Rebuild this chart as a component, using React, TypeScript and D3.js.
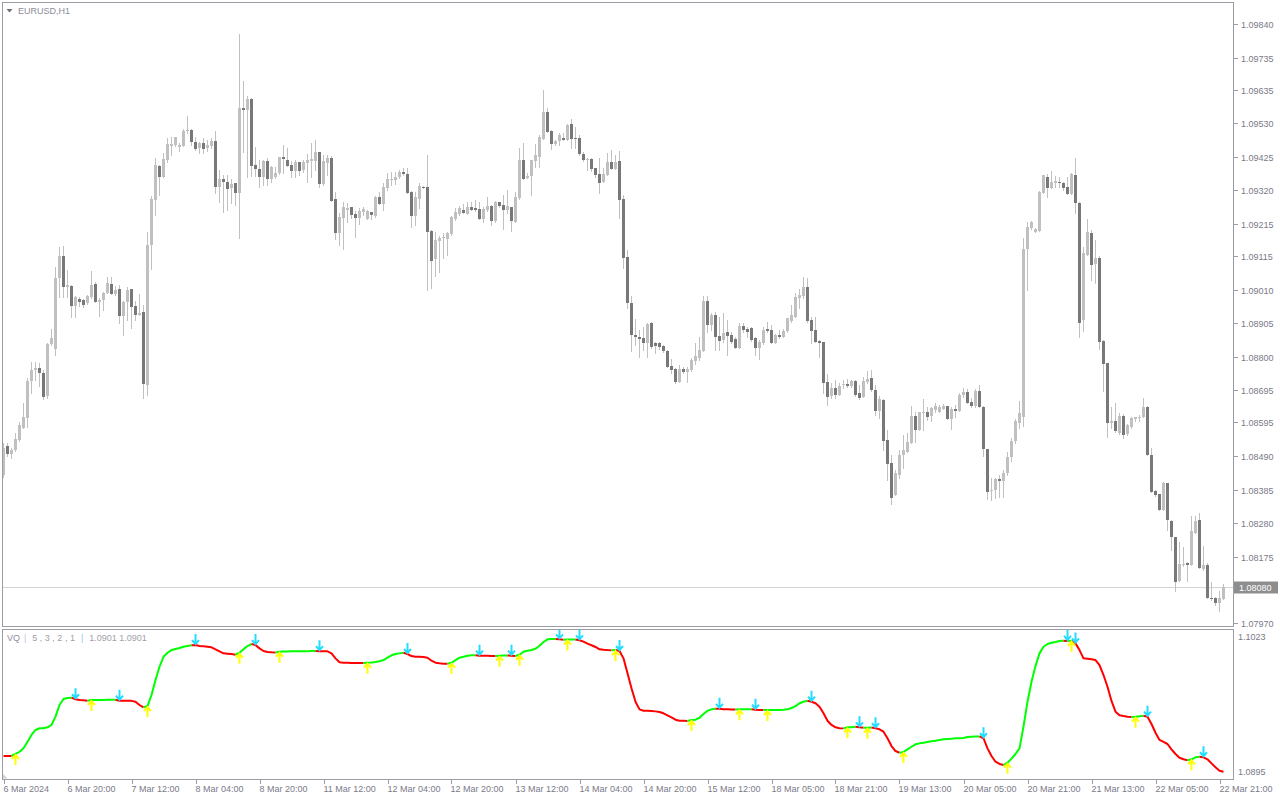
import React from 'react';
import * as d3 from 'd3';

const openP = [1.08430,1.08520,1.08495,1.08508,1.08539,1.08577,1.08608,1.08724,1.08758,1.08764,1.08749,1.08677,1.08839,1.08824,1.09046,1.09115,1.09018,1.09021,1.08958,1.08980,1.08977,1.08968,1.08986,1.09027,1.08971,1.08977,1.08999,1.09027,1.08996,1.09011,1.08927,1.08971,1.09011,1.08958,1.08930,1.08940,1.08711,1.09149,1.09290,1.09396,1.09362,1.09415,1.09458,1.09462,1.09455,1.09458,1.09505,1.09508,1.09471,1.09452,1.09468,1.09452,1.09458,1.09475,1.09330,1.09355,1.09346,1.09327,1.09343,1.09311,1.09577,1.09571,1.09605,1.09399,1.09387,1.09362,1.09412,1.09355,1.09362,1.09374,1.09424,1.09415,1.09399,1.09380,1.09408,1.09383,1.09405,1.09412,1.09412,1.09440,1.09340,1.09405,1.09421,1.09293,1.09186,1.09233,1.09258,1.09268,1.09246,1.09233,1.09252,1.09230,1.09252,1.09240,1.09299,1.09277,1.09327,1.09352,1.09352,1.09362,1.09377,1.09371,1.09315,1.09240,1.09293,1.09330,1.09330,1.09193,1.09105,1.09161,1.09171,1.09168,1.09183,1.09230,1.09246,1.09258,1.09246,1.09268,1.09265,1.09262,1.09230,1.09258,1.09271,1.09224,1.09283,1.09274,1.09258,1.09268,1.09221,1.09296,1.09415,1.09358,1.09365,1.09412,1.09424,1.09480,1.09565,1.09505,1.09465,1.09475,1.09484,1.09478,1.09527,1.09484,1.09484,1.09433,1.09415,1.09418,1.09390,1.09371,1.09346,1.09368,1.09408,1.09387,1.09412,1.09293,1.09111,1.08968,1.08868,1.08861,1.08858,1.08843,1.08905,1.08843,1.08843,1.08833,1.08818,1.08771,1.08761,1.08721,1.08761,1.08752,1.08758,1.08786,1.08795,1.08818,1.08974,1.08899,1.08930,1.08865,1.08852,1.08877,1.08868,1.08855,1.08827,1.08896,1.08886,1.08889,1.08858,1.08827,1.08843,1.08886,1.08883,1.08843,1.08868,1.08861,1.08880,1.08911,1.08924,1.08983,1.08989,1.09018,1.08914,1.08883,1.08849,1.08846,1.08721,1.08677,1.08702,1.08680,1.08711,1.08714,1.08708,1.08724,1.08686,1.08674,1.08721,1.08733,1.08695,1.08630,1.08664,1.08539,1.08467,1.08367,1.08430,1.08492,1.08502,1.08530,1.08614,1.08570,1.08624,1.08627,1.08614,1.08633,1.08627,1.08636,1.08646,1.08605,1.08636,1.08630,1.08680,1.08689,1.08658,1.08646,1.08692,1.08642,1.08511,1.08380,1.08383,1.08417,1.08411,1.08436,1.08486,1.08536,1.08592,1.08611,1.09136,1.09202,1.09190,1.09193,1.09311,1.09362,1.09327,1.09343,1.09346,1.09343,1.09330,1.09308,1.09368,1.09280,1.08914,1.09118,1.09186,1.09089,1.09108,1.08849,1.08780,1.08592,1.08599,1.08561,1.08614,1.08558,1.08580,1.08605,1.08608,1.08611,1.08642,1.08492,1.08380,1.08370,1.08320,1.08405,1.08286,1.08236,1.08101,1.08149,1.08155,1.08149,1.08251,1.08289,1.08136,1.08149,1.08048,1.08048,1.08030,1.08042];

const highP = [1.08530,1.08530,1.08514,1.08561,1.08595,1.08655,1.08733,1.08783,1.08783,1.08780,1.08758,1.08843,1.08886,1.09080,1.09143,1.09146,1.09071,1.09024,1.08989,1.08986,1.08980,1.08992,1.09068,1.09033,1.08983,1.09002,1.09049,1.09049,1.09021,1.09024,1.08974,1.09018,1.09011,1.08974,1.08996,1.08962,1.09190,1.09302,1.09421,1.09399,1.09437,1.09484,1.09487,1.09487,1.09468,1.09512,1.09552,1.09512,1.09487,1.09471,1.09484,1.09478,1.09484,1.09505,1.09384,1.09369,1.09369,1.09355,1.09343,1.09809,1.09662,1.09615,1.09609,1.09455,1.09415,1.09415,1.09421,1.09396,1.09393,1.09424,1.09462,1.09452,1.09412,1.09415,1.09408,1.09415,1.09433,1.09468,1.09478,1.09440,1.09431,1.09431,1.09428,1.09315,1.09249,1.09283,1.09280,1.09268,1.09255,1.09265,1.09268,1.09258,1.09252,1.09302,1.09315,1.09343,1.09374,1.09377,1.09377,1.09383,1.09390,1.09390,1.09318,1.09315,1.09343,1.09333,1.09430,1.09196,1.09190,1.09177,1.09186,1.09190,1.09240,1.09265,1.09271,1.09277,1.09283,1.09283,1.09290,1.09283,1.09268,1.09299,1.09274,1.09287,1.09283,1.09305,1.09321,1.09268,1.09315,1.09452,1.09468,1.09374,1.09415,1.09465,1.09493,1.09634,1.09577,1.09508,1.09478,1.09499,1.09499,1.09527,1.09543,1.09518,1.09493,1.09440,1.09421,1.09421,1.09390,1.09421,1.09390,1.09437,1.09446,1.09430,1.09443,1.09305,1.09133,1.08989,1.08918,1.08883,1.08892,1.08905,1.08908,1.08846,1.08846,1.08836,1.08821,1.08792,1.08764,1.08774,1.08767,1.08767,1.08795,1.08843,1.08861,1.08989,1.08989,1.08936,1.08940,1.08924,1.08936,1.08914,1.08877,1.08861,1.08905,1.08905,1.08892,1.08892,1.08861,1.08852,1.08892,1.08908,1.08899,1.08871,1.08883,1.08886,1.08921,1.08962,1.08999,1.09011,1.09049,1.09046,1.08924,1.08924,1.08852,1.08846,1.08746,1.08718,1.08727,1.08718,1.08727,1.08730,1.08727,1.08727,1.08711,1.08736,1.08755,1.08758,1.08711,1.08677,1.08667,1.08570,1.08492,1.08445,1.08508,1.08555,1.08561,1.08646,1.08627,1.08627,1.08667,1.08642,1.08642,1.08655,1.08649,1.08652,1.08646,1.08642,1.08649,1.08686,1.08702,1.08699,1.08671,1.08699,1.08711,1.08646,1.08511,1.08420,1.08423,1.08430,1.08445,1.08502,1.08546,1.08605,1.08661,1.09171,1.09221,1.09224,1.09202,1.09318,1.09368,1.09371,1.09380,1.09365,1.09362,1.09346,1.09362,1.09374,1.09421,1.09283,1.09143,1.09230,1.09196,1.09165,1.09115,1.08852,1.08780,1.08642,1.08655,1.08624,1.08620,1.08589,1.08611,1.08611,1.08617,1.08671,1.08646,1.08514,1.08383,1.08373,1.08408,1.08405,1.08289,1.08236,1.08220,1.08205,1.08158,1.08302,1.08302,1.08311,1.08208,1.08155,1.08095,1.08051,1.08067,1.08090];

const lowP = [1.08424,1.08489,1.08483,1.08505,1.08536,1.08577,1.08580,1.08686,1.08727,1.08708,1.08667,1.08671,1.08836,1.08805,1.08986,1.08986,1.08986,1.08924,1.08924,1.08958,1.08955,1.08965,1.08983,1.08971,1.08927,1.08946,1.08999,1.08996,1.08992,1.08905,1.08868,1.08914,1.08889,1.08914,1.08930,1.08671,1.08680,1.09074,1.09242,1.09305,1.09362,1.09408,1.09431,1.09458,1.09443,1.09458,1.09499,1.09462,1.09446,1.09437,1.09437,1.09443,1.09452,1.09311,1.09283,1.09252,1.09258,1.09280,1.09274,1.09171,1.09440,1.09362,1.09365,1.09365,1.09330,1.09337,1.09337,1.09346,1.09358,1.09371,1.09374,1.09396,1.09362,1.09362,1.09368,1.09377,1.09346,1.09362,1.09383,1.09330,1.09337,1.09368,1.09287,1.09168,1.09149,1.09137,1.09221,1.09233,1.09174,1.09215,1.09243,1.09230,1.09230,1.09236,1.09277,1.09258,1.09321,1.09337,1.09340,1.09358,1.09368,1.09311,1.09205,1.09211,1.09265,1.09327,1.09008,1.09015,1.09052,1.09065,1.09108,1.09118,1.09180,1.09227,1.09243,1.09249,1.09246,1.09258,1.09255,1.09230,1.09221,1.09255,1.09211,1.09221,1.09268,1.09199,1.09249,1.09193,1.09221,1.09293,1.09355,1.09358,1.09305,1.09393,1.09393,1.09480,1.09502,1.09449,1.09462,1.09462,1.09478,1.09478,1.09452,1.09452,1.09430,1.09412,1.09383,1.09380,1.09362,1.09311,1.09346,1.09368,1.09387,1.09387,1.09233,1.09077,1.08952,1.08818,1.08836,1.08799,1.08821,1.08799,1.08827,1.08811,1.08824,1.08814,1.08768,1.08749,1.08718,1.08721,1.08749,1.08721,1.08755,1.08777,1.08789,1.08818,1.08877,1.08883,1.08821,1.08821,1.08846,1.08805,1.08843,1.08827,1.08827,1.08877,1.08861,1.08849,1.08805,1.08792,1.08839,1.08877,1.08843,1.08843,1.08858,1.08861,1.08877,1.08908,1.08924,1.08952,1.08983,1.08908,1.08843,1.08846,1.08799,1.08686,1.08649,1.08671,1.08671,1.08680,1.08702,1.08705,1.08705,1.08677,1.08667,1.08674,1.08718,1.08692,1.08617,1.08608,1.08508,1.08414,1.08339,1.08367,1.08420,1.08452,1.08502,1.08530,1.08533,1.08570,1.08570,1.08602,1.08599,1.08627,1.08627,1.08636,1.08605,1.08574,1.08611,1.08630,1.08674,1.08655,1.08642,1.08642,1.08642,1.08489,1.08355,1.08352,1.08358,1.08361,1.08361,1.08430,1.08474,1.08530,1.08577,1.08583,1.09008,1.09199,1.09190,1.09193,1.09311,1.09299,1.09327,1.09330,1.09330,1.09321,1.09308,1.09308,1.09249,1.08861,1.08880,1.09118,1.09039,1.09030,1.08824,1.08692,1.08549,1.08577,1.08564,1.08558,1.08546,1.08555,1.08577,1.08599,1.08599,1.08611,1.08492,1.08377,1.08364,1.08320,1.08320,1.08258,1.08195,1.08067,1.08101,1.08145,1.08101,1.08149,1.08251,1.08139,1.08133,1.08045,1.08039,1.08026,1.08007,1.08042];

const closeP = [1.08514,1.08495,1.08508,1.08542,1.08586,1.08611,1.08724,1.08758,1.08764,1.08749,1.08674,1.08839,1.08858,1.09046,1.09115,1.09018,1.09024,1.08958,1.08986,1.08971,1.08962,1.08989,1.09024,1.08971,1.08977,1.08999,1.09030,1.08996,1.09008,1.08927,1.08971,1.09008,1.08955,1.08930,1.08936,1.08714,1.09149,1.09293,1.09399,1.09362,1.09418,1.09465,1.09465,1.09487,1.09462,1.09505,1.09508,1.09471,1.09449,1.09468,1.09449,1.09462,1.09475,1.09330,1.09355,1.09346,1.09324,1.09340,1.09311,1.09577,1.09571,1.09605,1.09396,1.09387,1.09362,1.09412,1.09355,1.09393,1.09374,1.09424,1.09418,1.09396,1.09380,1.09408,1.09380,1.09408,1.09415,1.09418,1.09440,1.09340,1.09412,1.09421,1.09287,1.09186,1.09236,1.09268,1.09265,1.09243,1.09233,1.09255,1.09262,1.09255,1.09243,1.09299,1.09277,1.09330,1.09355,1.09355,1.09362,1.09377,1.09371,1.09311,1.09240,1.09299,1.09333,1.09327,1.09190,1.09099,1.09165,1.09171,1.09174,1.09186,1.09236,1.09252,1.09265,1.09249,1.09268,1.09258,1.09258,1.09230,1.09262,1.09271,1.09224,1.09283,1.09271,1.09258,1.09271,1.09224,1.09299,1.09415,1.09355,1.09365,1.09415,1.09431,1.09487,1.09565,1.09502,1.09465,1.09475,1.09493,1.09478,1.09524,1.09480,1.09480,1.09433,1.09415,1.09418,1.09387,1.09368,1.09343,1.09371,1.09408,1.09387,1.09408,1.09290,1.09108,1.08968,1.08868,1.08861,1.08855,1.08843,1.08902,1.08830,1.08833,1.08830,1.08818,1.08768,1.08758,1.08721,1.08761,1.08752,1.08761,1.08789,1.08802,1.08821,1.08974,1.08899,1.08930,1.08861,1.08849,1.08874,1.08865,1.08846,1.08827,1.08896,1.08883,1.08877,1.08852,1.08827,1.08846,1.08883,1.08880,1.08843,1.08868,1.08861,1.08880,1.08921,1.08930,1.08986,1.08992,1.09018,1.08911,1.08880,1.08846,1.08843,1.08718,1.08674,1.08702,1.08680,1.08708,1.08714,1.08708,1.08724,1.08680,1.08671,1.08724,1.08730,1.08695,1.08630,1.08667,1.08536,1.08464,1.08358,1.08436,1.08492,1.08508,1.08533,1.08614,1.08570,1.08627,1.08627,1.08611,1.08639,1.08646,1.08642,1.08646,1.08605,1.08636,1.08630,1.08680,1.08689,1.08655,1.08646,1.08692,1.08642,1.08511,1.08377,1.08383,1.08417,1.08411,1.08436,1.08486,1.08536,1.08599,1.08624,1.09136,1.09205,1.09221,1.09199,1.09315,1.09368,1.09327,1.09346,1.09349,1.09343,1.09327,1.09308,1.09371,1.09280,1.08905,1.09124,1.09190,1.09086,1.09108,1.08846,1.08777,1.08592,1.08599,1.08567,1.08614,1.08555,1.08586,1.08608,1.08611,1.08611,1.08642,1.08492,1.08377,1.08367,1.08320,1.08405,1.08289,1.08236,1.08098,1.08152,1.08152,1.08149,1.08255,1.08286,1.08139,1.08149,1.08045,1.08042,1.08030,1.08045,1.08080];

const vqValues = [1.09110,1.09110,1.09110,1.09129,1.09150,1.09182,1.09245,1.09308,1.09355,1.09371,1.09371,1.09380,1.09402,1.09480,1.09590,1.09646,1.09656,1.09659,1.09644,1.09637,1.09634,1.09630,1.09637,1.09637,1.09638,1.09638,1.09639,1.09639,1.09640,1.09630,1.09630,1.09630,1.09629,1.09621,1.09590,1.09568,1.09580,1.09684,1.09825,1.09950,1.10044,1.10082,1.10107,1.10117,1.10126,1.10138,1.10145,1.10152,1.10154,1.10145,1.10142,1.10138,1.10133,1.10114,1.10095,1.10076,1.10073,1.10070,1.10063,1.10082,1.10114,1.10145,1.10164,1.10154,1.10123,1.10098,1.10089,1.10086,1.10085,1.10091,1.10093,1.10094,1.10095,1.10096,1.10096,1.10097,1.10097,1.10098,1.10098,1.10097,1.10096,1.10095,1.10076,1.10029,1.09992,1.09988,1.09987,1.09986,1.09986,1.09985,1.09985,1.09988,1.09990,1.09995,1.10001,1.10013,1.10035,1.10058,1.10070,1.10076,1.10082,1.10070,1.10051,1.10044,1.10043,1.10042,1.10035,1.10007,1.09988,1.09982,1.09979,1.09978,1.09988,1.10013,1.10035,1.10044,1.10054,1.10058,1.10059,1.10054,1.10053,1.10053,1.10052,1.10052,1.10054,1.10055,1.10056,1.10054,1.10051,1.10063,1.10091,1.10101,1.10107,1.10120,1.10148,1.10183,1.10208,1.10211,1.10212,1.10208,1.10205,1.10206,1.10207,1.10207,1.10199,1.10186,1.10167,1.10152,1.10136,1.10114,1.10110,1.10107,1.10106,1.10107,1.10098,1.10029,1.09888,1.09747,1.09621,1.09549,1.09536,1.09535,1.09533,1.09530,1.09524,1.09512,1.09493,1.09474,1.09452,1.09442,1.09441,1.09440,1.09449,1.09452,1.09470,1.09505,1.09536,1.09549,1.09555,1.09554,1.09549,1.09549,1.09548,1.09548,1.09549,1.09549,1.09550,1.09550,1.09546,1.09543,1.09542,1.09543,1.09543,1.09544,1.09544,1.09545,1.09549,1.09562,1.09580,1.09606,1.09621,1.09630,1.09621,1.09606,1.09574,1.09512,1.09442,1.09402,1.09380,1.09372,1.09370,1.09380,1.09381,1.09386,1.09380,1.09376,1.09377,1.09378,1.09371,1.09361,1.09339,1.09277,1.09204,1.09157,1.09141,1.09148,1.09173,1.09197,1.09220,1.09229,1.09235,1.09242,1.09248,1.09254,1.09261,1.09267,1.09270,1.09273,1.09277,1.09278,1.09279,1.09289,1.09292,1.09293,1.09294,1.09277,1.09182,1.09110,1.09056,1.09035,1.09025,1.09047,1.09085,1.09129,1.09182,1.09386,1.09621,1.09809,1.09957,1.10076,1.10138,1.10164,1.10176,1.10183,1.10192,1.10195,1.10193,1.10195,1.10170,1.10107,1.10029,1.10026,1.10020,1.10013,1.09966,1.09872,1.09762,1.09628,1.09527,1.09493,1.09486,1.09480,1.09477,1.09480,1.09484,1.09489,1.09480,1.09411,1.09329,1.09261,1.09242,1.09223,1.09173,1.09129,1.09094,1.09079,1.09070,1.09079,1.09098,1.09103,1.09098,1.09079,1.09041,1.09004,1.08972,1.08962];

const upSignals = [3,22,36,59,69,91,112,124,129,141,153,172,184,191,211,216,225,251,267,283,297];
const downSignals = [18,29,48,63,79,101,119,127,139,144,154,179,188,202,214,218,245,266,268,286,300];

const priceTicks = [1.09840,1.09735,1.09635,1.09530,1.09425,1.09320,1.09215,1.09115,1.09010,1.08905,1.08800,1.08695,1.08595,1.08490,1.08385,1.08280,1.08175,1.07970];
const timeLabels = ['6 Mar 2024','6 Mar 20:00','7 Mar 12:00','8 Mar 04:00','8 Mar 20:00','11 Mar 12:00','12 Mar 04:00','12 Mar 20:00','13 Mar 12:00','14 Mar 04:00','14 Mar 20:00','15 Mar 12:00','18 Mar 05:00','18 Mar 21:00','19 Mar 13:00','20 Mar 05:00','20 Mar 21:00','21 Mar 13:00','22 Mar 05:00','22 Mar 21:00'];
const labelStep = 16;
const currentPrice = 1.0808;
const vqScaleLabels = [1.1023, 1.0895];
const symbolTitle = 'EURUSD,H1';

const FONT = '"Liberation Sans", Arial, sans-serif';
const AXIS_COLOR = '#7a7a88';
const BORDER = '#9c9ca4';

export default function App() {
  const n = closeP.length;
  const x = d3.scaleLinear().domain([0, n - 1]).range([3.5, 3.5 + 4 * (n - 1)]);
  const y = d3.scaleLinear().domain([1.0797, 1.0984]).range([622.5, 24]);
  const yv = d3.scaleLinear().domain([vqScaleLabels[1], vqScaleLabels[0]]).range([773, 637]);

  const upSet = new Set(upSignals);
  const downSet = new Set(downSignals);
  const trend: boolean[] = [];
  let up = false;
  for (let i = 0; i < n; i++) {
    if (upSet.has(i)) up = true;
    if (downSet.has(i)) up = false;
    trend.push(up);
  }
  const runs: { up: boolean; idx: number[] }[] = [];
  for (let i = 1; i < n; i++) {
    const last = runs[runs.length - 1];
    if (last && last.up === trend[i]) last.idx.push(i);
    else runs.push({ up: trend[i], idx: [i - 1, i] });
  }
  const line = d3.line<number>().x((i) => x(i)).y((i) => yv(vqValues[i]));

  const candles = d3.range(n).map((i) => {
    const o = openP[i], c = closeP[i];
    const bull = c >= o;
    const top = Math.round(y(Math.max(o, c)));
    const bot = Math.round(y(Math.min(o, c)));
    return { i, bull, top, h: Math.max(1, bot - top), hy: Math.round(y(highP[i])), ly: Math.round(y(lowP[i])) + 1 };
  });

  const priceY = Math.round(y(currentPrice)) + 0.5;

  return (
    <svg width={1280} height={800} style={{ position: 'absolute', left: 0, top: 0, background: '#fff' }} fontFamily={FONT}>
      <rect x={0} y={0} width={1280} height={800} fill="#ffffff" />
      <defs>
        <clipPath id="mainClip"><rect x={3} y={3} width={1230} height={623} /></clipPath>
        <clipPath id="indClip"><rect x={3} y={630} width={1230} height={149} /></clipPath>
      </defs>

      {/* main price panel */}
      <line x1={3} x2={1233} y1={priceY} y2={priceY} stroke="#d4d4d4" strokeWidth={1} />
      <g clipPath="url(#mainClip)">
        {candles.map((d) => (
          <line key={'w' + d.i} x1={x(d.i)} x2={x(d.i)} y1={d.hy} y2={d.ly} stroke="#c0c0c0" strokeWidth={1} />
        ))}
        {candles.map((d) => (
          <rect key={'b' + d.i} x={x(d.i) - 1.5} y={d.top} width={3} height={d.h} fill={d.bull ? '#c0c0c0' : '#787878'} />
        ))}
      </g>
      <rect x={2.5} y={2.5} width={1231} height={624} fill="none" stroke={BORDER} strokeWidth={1} />

      {/* title */}
      <path d="M6.5,9 L12.5,9 L9.5,12.5 Z" fill="#6e6e7a" />
      <text x={18} y={14} fontSize={9} fill="#8c8c9c">{symbolTitle}</text>

      {/* price axis */}
      {priceTicks.map((t) => {
        const ty = Math.round(y(t)) + 0.5;
        return (
          <g key={t}>
            <line x1={1234} x2={1238} y1={ty} y2={ty} stroke={BORDER} strokeWidth={1} />
            <text x={1241} y={ty + 3.2} fontSize={9} fill={AXIS_COLOR}>{t.toFixed(5)}</text>
          </g>
        );
      })}
      <rect x={1234} y={priceY - 6} width={44} height={12} fill="#8e8e8e" />
      <text x={1239} y={priceY + 3.3} fontSize={9} fill="#ffffff">{currentPrice.toFixed(5)}</text>

      {/* indicator panel */}
      <g clipPath="url(#indClip)">
        {runs.map((r, k) => (
          <path key={k} d={line(r.idx) || ''} fill="none" stroke={r.up ? '#00ff00' : '#ff0000'} strokeWidth={2} strokeLinejoin="round" />
        ))}
        {upSignals.map((i) => {
          const cx = x(i);
          const ty = yv(vqValues[i]) + 1;
          return (
            <path key={'u' + i} d={`M${cx},${ty} L${cx},${ty + 10} M${cx - 3.5},${ty + 4} L${cx},${ty} L${cx + 3.5},${ty + 4}`} fill="none" stroke="#ffff00" strokeWidth={2} />
          );
        })}
        {downSignals.map((i) => {
          const cx = x(i);
          const ty = yv(vqValues[i]) - 1;
          return (
            <path key={'d' + i} d={`M${cx},${ty} L${cx},${ty - 10} M${cx - 3.5},${ty - 4} L${cx},${ty} L${cx + 3.5},${ty - 4}`} fill="none" stroke="#22ddff" strokeWidth={2} />
          );
        })}
      </g>
      <rect x={2.5} y={629.5} width={1231} height={150} fill="none" stroke={BORDER} strokeWidth={1} />
      <path d="M3,778.5 L3,774 L7.5,778.5 Z" fill="#d0d0d4" />
      <text x={7} y={641} fontSize={9}>
        <tspan fill="#8c8c9c">VQ</tspan>
        <tspan fill="#c4c4cc" dx={4}>|</tspan>
        <tspan fill="#a0a0a8" dx={6}>5 , 3 , 2 , 1</tspan>
        <tspan fill="#9cc4ec" dx={6}>|</tspan>
        <tspan fill="#a0a0a8" dx={6}>1.0901 1.0901</tspan>
      </text>
      <text x={1238} y={640} fontSize={9} fill={AXIS_COLOR}>{vqScaleLabels[0].toFixed(4)}</text>
      <text x={1238} y={775} fontSize={9} fill={AXIS_COLOR}>{vqScaleLabels[1].toFixed(4)}</text>

      {/* time axis */}
      {timeLabels.map((lab, k) => {
        const tx = Math.round(x(k * labelStep)) + 0.5;
        return (
          <g key={lab}>
            <line x1={tx} x2={tx} y1={780} y2={784} stroke={BORDER} strokeWidth={1} />
            <text x={tx - 1} y={792} fontSize={9} fill={AXIS_COLOR}>{lab}</text>
          </g>
        );
      })}
    </svg>
  );
}
